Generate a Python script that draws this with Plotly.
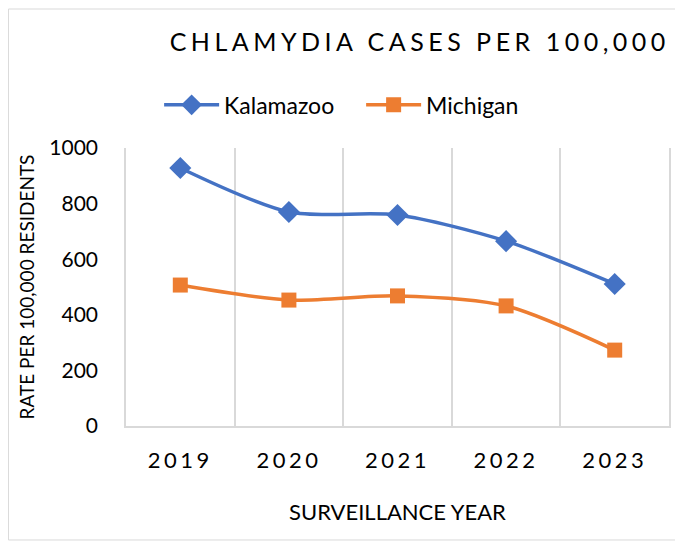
import plotly.graph_objects as go

years = ["2019", "2020", "2021", "2022", "2023"]
kalamazoo = [928, 770, 759, 665, 511]
michigan = [507, 453, 468, 432, 273]
y_ticks = [0, 200, 400, 600, 800, 1000]
grid_bounds = [-0.5, 0.5, 1.5, 2.5, 3.5, 4.5]

FONT = "Lato, 'Open Sans', sans-serif"
BLUE = "#4472C4"
ORANGE = "#ED7D31"
GRID = "#D9D9D9"


def spaced(text, px):
    return f'<span style="letter-spacing:{px}px">{text}</span>'


fig = go.Figure()
fig.add_trace(go.Scatter(
    x=years, y=kalamazoo, name="Kalamazoo", mode="lines+markers",
    line=dict(color=BLUE, width=3.5, shape="spline", smoothing=0.8),
    marker=dict(symbol="diamond", size=17, color=BLUE),
))
fig.add_trace(go.Scatter(
    x=years, y=michigan, name="Michigan", mode="lines+markers",
    line=dict(color=ORANGE, width=3.5, shape="spline", smoothing=0.8),
    marker=dict(symbol="square", size=15, color=ORANGE),
))
# invisible trace to carry the category-boundary grid axis
fig.add_trace(go.Scatter(x=grid_bounds, y=[None]*len(grid_bounds), xaxis="x2",
                         showlegend=False, hoverinfo="skip", mode="lines"))

fig.update_layout(
    width=675, height=536,
    paper_bgcolor="white", plot_bgcolor="white",
    margin=dict(l=118, r=14, t=140, b=118),
    font=dict(family=FONT, color="#000000"),
    title=dict(text=spaced("CHLAMYDIA CASES PER 100,000", 4.5), x=0.61, xanchor="center",
               y=0.937, yanchor="middle",
               font=dict(size=25, color="#000000")),
    legend=dict(orientation="h", x=0.061, xanchor="left", y=1.155, yanchor="middle",
                font=dict(size=23), itemwidth=55, entrywidth=132,
                bgcolor="rgba(0,0,0,0)"),
    xaxis=dict(type="category", range=[-0.5, 4.5], showgrid=False,
               showline=True, linecolor=GRID, linewidth=1.5,
               tickvals=years, ticktext=[spaced(y, 3.5) for y in years],
               ticks="", tickfont=dict(size=22), ticklabelstandoff=14,
               title=dict(text="SURVEILLANCE YEAR", font=dict(size=22), standoff=32)),
    xaxis2=dict(overlaying="x", range=[-0.5, 4.5], tickvals=grid_bounds,
                showticklabels=False, showgrid=True, gridcolor=GRID, gridwidth=1.5,
                zeroline=False, showline=False, ticks=""),
    yaxis=dict(range=[0, 1000], tickvals=y_ticks, showgrid=False, zeroline=False,
               showline=True, mirror=True, linecolor=GRID, linewidth=1.5,
               tickfont=dict(size=21), ticklabelstandoff=22,
               title=dict(text="RATE PER 100,000 RESIDENTS", font=dict(size=19), standoff=10)),
    shapes=[dict(type="rect", xref="paper", yref="paper", x0=-0.2165, x1=1.022,
                 y0=-0.41, y1=1.5, line=dict(color=GRID, width=1))],
)

fig.write_html("out.html")
